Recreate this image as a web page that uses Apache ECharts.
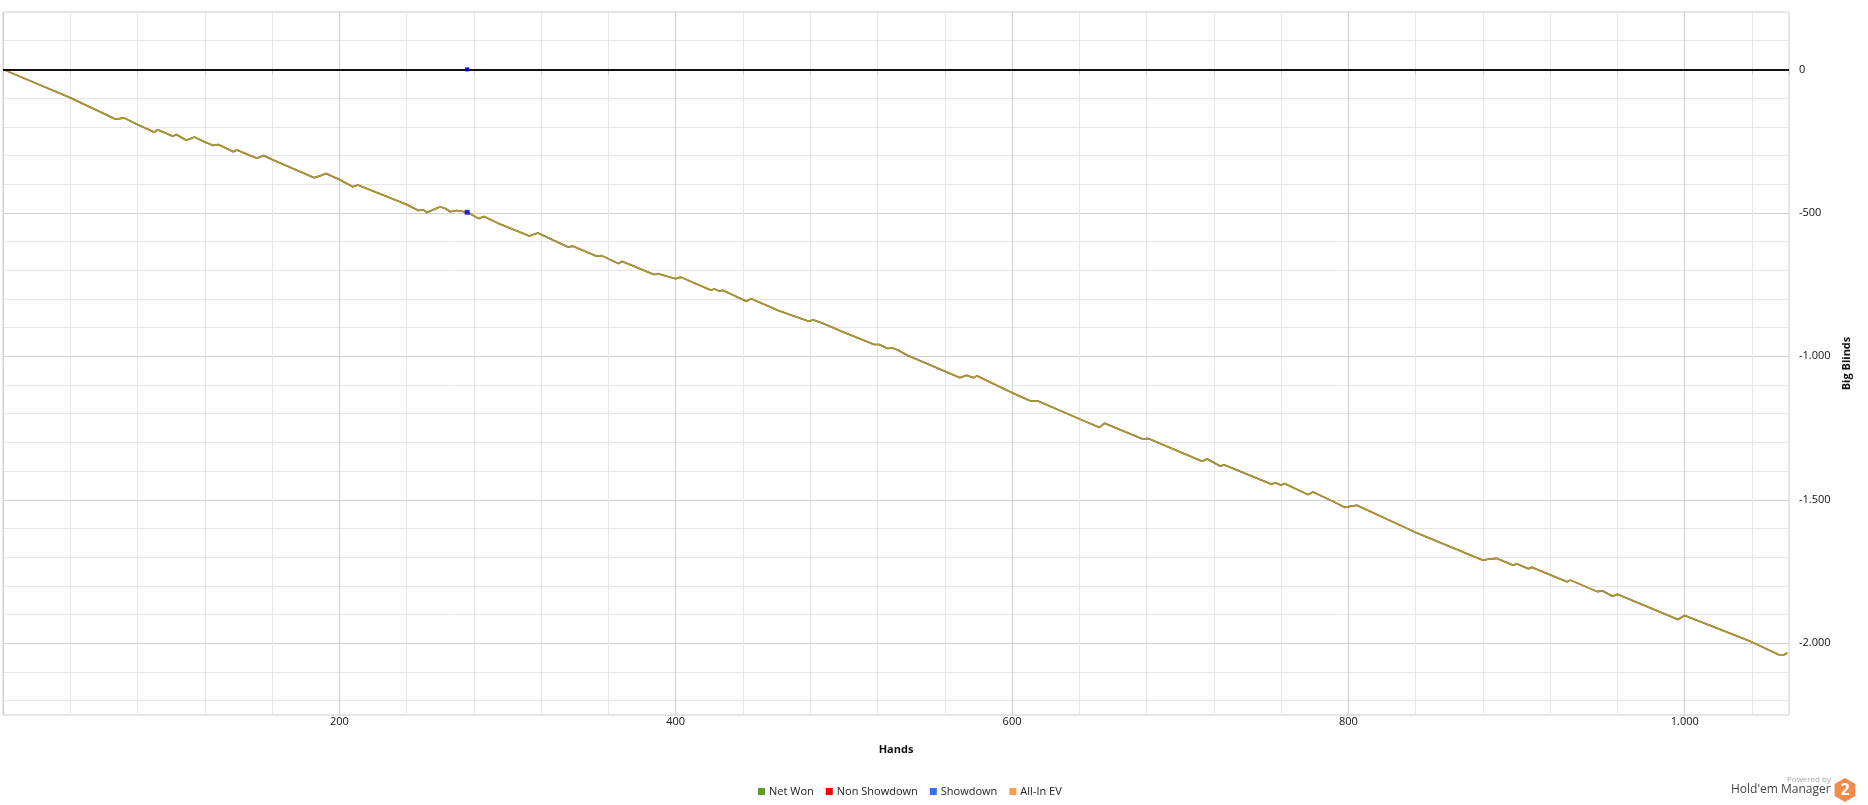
<!DOCTYPE html>
<html>
<head>
<meta charset="utf-8">
<script src="https://cdn.jsdelivr.net/npm/echarts@6/dist/echarts.min.js"></script>
<style>
html,body{margin:0;padding:0;background:#ffffff;}
#chart{width:1868px;height:805px;}
</style>
</head>
<body>
<div id="chart"></div>
<script>
// ---- data ----
const hands = [0, 1, 40, 67, 72, 80, 90, 92, 101, 103, 109, 114, 120, 125, 128, 137, 139, 151, 155, 160,
  185, 188, 192, 200, 208, 211, 240, 247, 250, 252, 260, 263, 266, 270, 276, 283, 286, 294, 313, 318,
  336, 339, 353, 356, 366, 368, 387, 390, 400, 403, 421, 423, 426, 428, 442, 445, 461, 479, 482, 487,
  501, 518, 521, 526, 529, 532, 538, 560, 569, 573, 577, 579, 600, 611, 615, 640, 652, 655, 678, 681,
  713, 716, 724, 726, 754, 757, 760, 762, 776, 779, 792, 798, 801, 805, 839, 880, 883, 888, 898, 900,
  907, 909, 930, 932, 948, 951, 957, 960, 996, 1000, 1040, 1056, 1059, 1061];
const netWon = [0, 0, -99, -174, -169, -192, -219, -210, -233, -227, -247, -236, -253, -265, -262, -287, -281, -310, -300, -314,
  -378, -372, -363, -384, -409, -403, -471, -492, -490, -499, -479, -485, -496, -492, -498, -520, -513, -535, -581, -570,
  -619, -616, -651, -649, -677, -669, -715, -713, -730, -724, -770, -765, -773, -770, -808, -799, -840, -878, -873, -884,
  -919, -959, -959, -973, -971, -978, -997, -1052, -1075, -1066, -1075, -1068, -1127, -1156, -1155, -1218, -1248, -1233, -1289, -1286,
  -1366, -1358, -1383, -1378, -1445, -1441, -1449, -1443, -1482, -1473, -1509, -1527, -1523, -1519, -1611, -1711, -1707, -1704, -1728, -1723,
  -1740, -1735, -1786, -1780, -1820, -1817, -1836, -1829, -1917, -1903, -1996, -2040, -2040, -2034];
// Non Showdown and All-In EV lie exactly on the Net Won line in the picture
const nonShowdown = netWon;
const allInEV = netWon;
const showdownHands = [0, 276, 1061];
const showdownValues = [0, 0, 0];
const showdownMarkHands = [276];
const showdownMarkValues = [-498];
const zeroLine = 0;
const xLabelStep = 200;
const yLabelStep = 500;
const legendNames = ['Net Won', 'Non Showdown', 'Showdown', 'All-In EV'];

// ---- chart ----
const FONT = '"Open Sans", "Noto Sans", sans-serif';
const pair = (xs, ys) => xs.map((x, i) => [x, ys[i]]);
function fmt(v) {
  const s = Math.abs(v).toString().replace(/\B(?=(\d{3})+(?!\d))/g, '.');
  return (v < 0 ? '-' : '') + s;
}
const MAJ = '#d0d0d0', MIN = '#e7e7e7', T = 'rgba(0,0,0,0)';

const chart = echarts.init(document.getElementById('chart'), null, {renderer: 'canvas'});
chart.setOption({
  animation: false,
  backgroundColor: '#ffffff',
  grid: {left: 3, right: 79, top: 12, bottom: 90, show: true, borderColor: '#cccccc', borderWidth: 1, backgroundColor: 'transparent'},
  xAxis: {
    type: 'value', min: 0, max: 1062, interval: 40,
    name: 'Hands', nameLocation: 'middle', nameGap: 29,
    nameTextStyle: {fontFamily: FONT, fontSize: 11, fontWeight: 'bold', color: '#111'},
    axisLine: {show: false},
    axisTick: {show: true, length: 5, lineStyle: {color: '#cccccc'}},
    axisLabel: {
      margin: 1, fontFamily: FONT, fontSize: 11, color: '#111',
      formatter: v => (v > 0 && v % xLabelStep === 0) ? fmt(v) : ''
    },
    splitLine: {show: true, lineStyle: {color: [MAJ, MIN, MIN, MIN, MIN], width: 1}}
  },
  yAxis: {
    type: 'value', position: 'right', min: -2250, max: 200, interval: 50,
    name: 'Big Blinds', nameLocation: 'middle', nameGap: 48, nameRotate: 90,
    nameTextStyle: {fontFamily: FONT, fontSize: 11, fontWeight: 'bold', color: '#111'},
    axisLine: {show: false},
    axisTick: {show: false},
    axisLabel: {
      margin: 10, fontFamily: FONT, fontSize: 11, color: '#111',
      formatter: v => (v % yLabelStep === 0) ? fmt(v) : ''
    },
    splitLine: {show: true, lineStyle: {color: [T, MIN, T, MIN, T, MAJ, T, MIN, T, MIN], width: 1}}
  },
  legend: {
    data: [
      {name: legendNames[0], icon: 'rect', itemStyle: {color: '#5f9a2c', opacity: 1}},
      {name: legendNames[1], icon: 'rect', itemStyle: {color: '#ff0000', opacity: 1}},
      {name: legendNames[2], icon: 'rect', itemStyle: {color: '#3d6bff', opacity: 1}},
      {name: legendNames[3], icon: 'rect', itemStyle: {color: '#f7a04b', opacity: 1}}
    ],
    left: 758, top: 786, padding: 0,
    icon: 'rect', itemWidth: 7, itemHeight: 7, itemGap: 12,
    textStyle: {fontFamily: FONT, fontSize: 11, color: '#222', padding: [0, 0, 0, -1]}
  },
  series: [
    {
      name: 'Non Showdown', type: 'line', data: pair(hands, nonShowdown),
      showSymbol: false, symbol: 'none', z: 2,
      lineStyle: {color: '#ff0000', width: 1.6}, itemStyle: {color: '#ff0000'}
    },
    {
      name: 'Net Won', type: 'line', data: pair(hands, netWon),
      showSymbol: false, symbol: 'none', z: 3,
      lineStyle: {color: '#72a032', width: 1.6}, itemStyle: {color: '#72a032'}
    },
    {
      name: 'All-In EV', type: 'line', data: pair(hands, allInEV),
      showSymbol: false, symbol: 'none', z: 4,
      lineStyle: {color: '#f5a04a', width: 1.2, opacity: 0.35}, itemStyle: {color: '#f5a04a'}
    },
    {
      name: 'Showdown', type: 'scatter', z: 6,
      data: pair(showdownMarkHands, showdownMarkValues),
      symbol: 'rect', symbolSize: 5, itemStyle: {color: '#0000ee'},
      markLine: {
        silent: true, symbol: 'none', label: {show: false}, z: 6,
        lineStyle: {color: '#111111', width: 2, type: 'solid'},
        data: [{yAxis: zeroLine}]
      }
    },
    {
      name: 'Showdown', type: 'line', z: 8,
      data: pair(showdownHands, showdownValues).map((p, i) => ({
        value: p,
        symbol: showdownMarkHands.includes(p[0]) ? 'rect' : 'none',
        symbolSize: 4
      })),
      showSymbol: true,
      lineStyle: {color: '#6f8fff', width: 1, opacity: 0}, itemStyle: {color: '#0000ee'}
    }
  ],
  graphic: [
    {type: 'text', left: 1787, top: 776, style: {text: 'Powered by', fill: '#aaaaaa', font: '8px ' + FONT}},
    {type: 'text', left: 1731, top: 784, style: {text: "Hold'em Manager", fill: '#444444', font: '12px ' + FONT}},
    {type: 'polygon', shape: {points: [[1845, 778], [1855.4, 784], [1855.4, 796], [1845, 802], [1834.6, 796], [1834.6, 784]]},
     style: {fill: '#f28a4c'}},
    {type: 'text', x: 1845, y: 790, style: {text: '2', fill: '#ffffff', font: 'bold 16px ' + FONT, align: 'center', verticalAlign: 'middle'}}
  ]
});
</script>
</body>
</html>
